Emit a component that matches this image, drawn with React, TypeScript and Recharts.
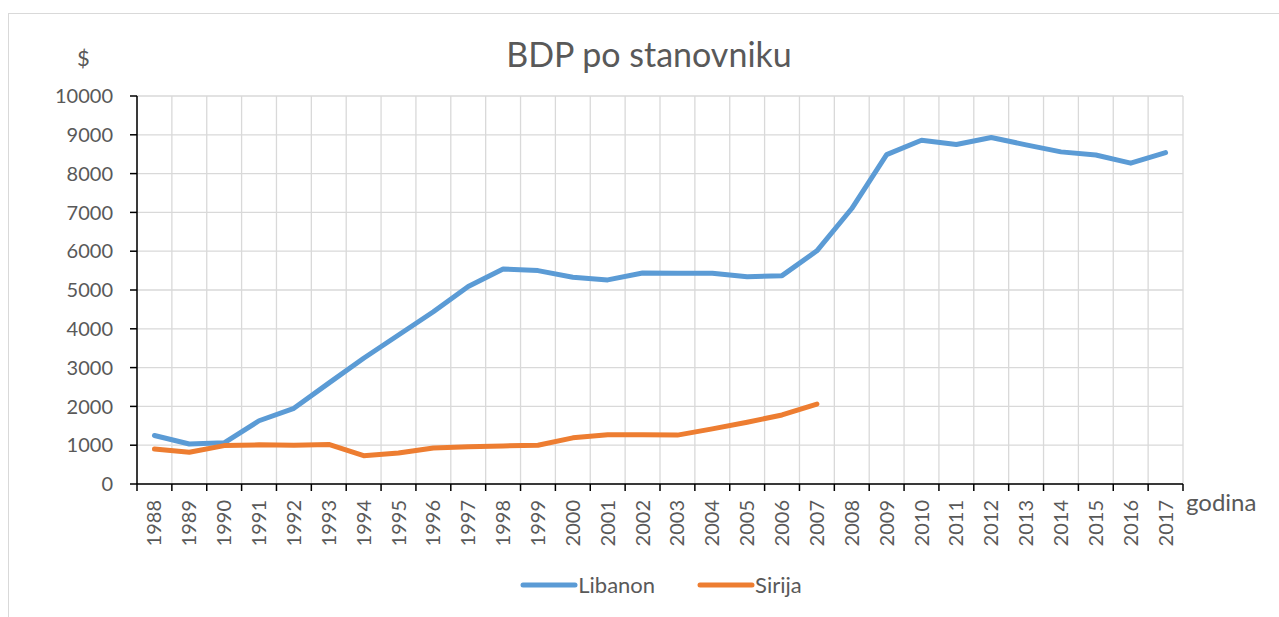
import React from 'react';
import { LineChart, Line, XAxis, YAxis, CartesianGrid, Legend } from 'recharts';

const years = [
  '1988', '1989', '1990', '1991', '1992', '1993', '1994', '1995', '1996', '1997',
  '1998', '1999', '2000', '2001', '2002', '2003', '2004', '2005', '2006', '2007',
  '2008', '2009', '2010', '2011', '2012', '2013', '2014', '2015', '2016', '2017',
];

const libanon = [
  1250, 1030, 1060, 1630, 1950, 2600, 3240, 3840, 4440, 5090,
  5540, 5500, 5330, 5260, 5440, 5430, 5430, 5340, 5370, 6010,
  7100, 8490, 8860, 8750, 8930, 8740, 8560, 8480, 8270, 8540,
];

const sirija = [
  900, 820, 990, 1010, 1000, 1020, 730, 800, 930, 960,
  980, 1000, 1190, 1270, 1270, 1260, 1420, 1590, 1780, 2060,
  null, null, null, null, null, null, null, null, null, null,
];

const yTicks = [0, 1000, 2000, 3000, 4000, 5000, 6000, 7000, 8000, 9000, 10000];

const data = years.map((y, i) => ({ year: y, Libanon: libanon[i], Sirija: sirija[i] }));

const W = 1279;
const H = 617;
const Y_W = 80;
const X_H = 70;
const margin = { top: 96, right: 96, left: 137 - Y_W, bottom: H - 484 - X_H };
const PLOT_W = W - margin.left - margin.right - Y_W;
const BAND = PLOT_W / years.length;

const FONT = 'Lato, "Open Sans", sans-serif';
const TXT = '#595959';
const BLUE = '#5b9bd5';
const ORANGE = '#ed7d31';

function YearTick(props: any) {
  const { x, y, payload, index } = props;
  return (
    <g>
      <line x1={x - BAND / 2} x2={x - BAND / 2} y1={y - 7} y2={y} stroke="#000" strokeWidth={1.5} />
      {index === years.length - 1 && (
        <line x1={x + BAND / 2} x2={x + BAND / 2} y1={y - 7} y2={y} stroke="#000" strokeWidth={1.5} />
      )}
      <text
        x={x}
        y={y + 9}
        dy="0.35em"
        transform={`rotate(-90, ${x}, ${y + 9})`}
        textAnchor="end"
        fill={TXT}
        fontSize={20}
        fontFamily={FONT}
      >
        {payload.value}
      </text>
    </g>
  );
}

function LegendContent() {
  const items = [
    { name: 'Libanon', color: BLUE },
    { name: 'Sirija', color: ORANGE },
  ];
  return (
    <div style={{ display: 'flex', justifyContent: 'center', gap: 42, paddingLeft: 43, fontFamily: FONT }}>
      {items.map((it) => (
        <div key={it.name} style={{ display: 'flex', alignItems: 'center' }}>
          <svg width={58} height={10}>
            <line x1={3} x2={55} y1={5} y2={5} stroke={it.color} strokeWidth={5} strokeLinecap="round" />
          </svg>
          <span style={{ fontSize: 22, color: TXT }}>{it.name}</span>
        </div>
      ))}
    </div>
  );
}

export default function App() {
  return (
    <div style={{ position: 'absolute', left: 0, top: 0, width: W, height: H, overflow: 'hidden', background: '#fff' }}>
      <div
        style={{
          position: 'absolute', left: 8, top: 13, width: W, height: H,
          border: '1.5px solid #d9d9d9', boxSizing: 'border-box',
        }}
      />
      <div style={{ position: 'absolute', left: 0, top: 0 }}>
        <LineChart width={W} height={H} data={data} margin={margin}>
          <CartesianGrid
            stroke="#d9d9d9"
            strokeWidth={1.3}
            verticalCoordinatesGenerator={({ offset }: any) =>
              Array.from({ length: years.length + 1 }, (_, i) => offset.left + (i * offset.width) / years.length)
            }
          />
          <XAxis
            dataKey="year"
            height={X_H}
            interval={0}
            padding={{ left: BAND / 2, right: BAND / 2 }}
            axisLine={{ stroke: '#000', strokeWidth: 1.5 }}
            tickLine={false}
            tickSize={7}
            tickMargin={0}
            tick={<YearTick />}
          />
          <YAxis
            width={Y_W}
            domain={[0, 10000]}
            ticks={yTicks}
            interval={0}
            axisLine={{ stroke: '#000', strokeWidth: 1.5 }}
            tickLine={{ stroke: '#000', strokeWidth: 1.5 }}
            tickSize={7}
            tickMargin={17}
            tick={{ fill: TXT, fontSize: 20, fontFamily: FONT }}
          />
          <Legend
            verticalAlign="middle"
            align="center"
            layout="horizontal"
            wrapperStyle={{ top: 571, left: 0, width: W }}
            content={<LegendContent />}
          />
          <Line
            type="linear"
            dataKey="Libanon"
            stroke={BLUE}
            strokeWidth={5}
            dot={false}
            activeDot={false}
            strokeLinejoin="round"
            strokeLinecap="round"
            isAnimationActive={false}
          />
          <Line
            type="linear"
            dataKey="Sirija"
            stroke={ORANGE}
            strokeWidth={5}
            dot={false}
            activeDot={false}
            strokeLinejoin="round"
            strokeLinecap="round"
            isAnimationActive={false}
          />
        </LineChart>
      </div>
      <div style={{ position: 'absolute', left: 0, width: 1298, top: 33, textAlign: 'center', fontFamily: FONT, fontSize: 34, color: TXT }}>
        BDP po stanovniku
      </div>
      <div style={{ position: 'absolute', left: 77, top: 44, fontFamily: FONT, fontSize: 22, color: TXT }}>$</div>
      <div style={{ position: 'absolute', left: 1186, top: 487, fontFamily: FONT, fontSize: 24, color: TXT }}>godina</div>
    </div>
  );
}
